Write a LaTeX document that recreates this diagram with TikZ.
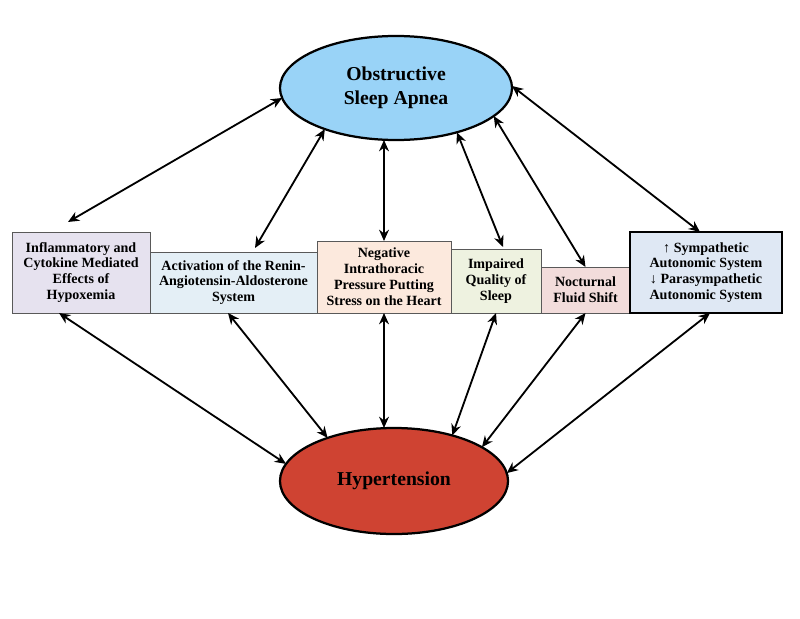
\documentclass[tikz,border=0pt]{standalone}
\usepackage{fontspec}
\setmainfont{Liberation Serif}
\usetikzlibrary{shapes.geometric,arrows.meta}
\definecolor{osablue}{HTML}{99D3F7}
\definecolor{hypred}{HTML}{CF4332}
\definecolor{inflamfill}{HTML}{E6E2EF}
\definecolor{raasfill}{HTML}{E4EFF6}
\definecolor{thoraxfill}{HTML}{FCE9DD}
\definecolor{sleepfill}{HTML}{EEF2E0}
\definecolor{fluidfill}{HTML}{F2DCDB}
\definecolor{autofill}{HTML}{DFE8F4}

\begin{document}
\begin{tikzpicture}[x=0.025cm,y=-0.025cm, % one unit = one pixel of the figure
  oval/.style={ellipse,draw,line width=1.6pt,inner sep=0pt,outer sep=0pt,align=center,font=\fontsize{14}{17}\selectfont\bfseries},
  factor/.style={rectangle,draw=black!65,line width=0.6pt,inner sep=0pt,outer sep=0pt,align=center,font=\fontsize{10}{11.3}\selectfont\bfseries},
  link/.style={{Stealth[length=8pt,width=7pt]}-{Stealth[length=8pt,width=7pt]},line width=1.3pt}]
  \useasboundingbox (0,0) rectangle (800,618);
  % the two main conditions
  \node[oval,fill=osablue,minimum width=5.8cm,minimum height=2.6cm] (osa) at (396,88) {Obstructive\\Sleep Apnea};
  \node[oval,fill=hypred,minimum width=5.7cm,minimum height=2.65cm] (hyp) at (394,481) {Hypertension};
  % the mechanisms in between
  \node[factor,fill=inflamfill,minimum width=3.45cm,minimum height=2.025cm] (inflam) at (81,272.5) {Inflammatory and\\Cytokine Mediated\\Effects of\\Hypoxemia};
  \node[factor,fill=raasfill,minimum width=4.175cm,minimum height=1.525cm] (raas) at (233.5,282.5) {Activation of the Renin-\\Angiotensin-Aldosterone\\System};
  \node[factor,fill=thoraxfill,minimum width=3.35cm,minimum height=1.8cm] (thorax) at (384,277) {Negative\\Intrathoracic\\Pressure Putting\\Stress on the Heart};
  \node[factor,fill=sleepfill,minimum width=2.25cm,minimum height=1.6cm] (sleep) at (496,281) {Impaired\\Quality of\\Sleep};
  \node[factor,fill=fluidfill,minimum width=2.225cm,minimum height=1.15cm] (fluid) at (585.5,290) {Nocturnal\\Fluid Shift};
  \node[factor,draw=black,line width=1.6pt,fill=autofill,minimum width=3.8cm,minimum height=2.025cm] (auto) at (706,272.5) {↑ Sympathetic\\Autonomic System\\↓ Parasympathetic\\Autonomic System};
  % links to sleep apnea
  \draw[link] (osa.185) -- ([shift={(-13,-10)}]inflam.north);
  \draw[link] (osa.210) -- ([shift={(21.5,-4)}]raas.north);
  \draw[link] (thorax.north) -- (thorax.north |- osa.south);
  \draw[link] (osa.324) -- ([shift={(7,-2)}]sleep.north);
  \draw[link] (osa.344) -- (fluid.north);
  \draw[link] (osa.1) -- ([shift={(-6,0)}]auto.north);
  % links to hypertension
  \draw[link] ([shift={(-22,0)}]inflam.south) -- (hyp.171);
  \draw[link] ([shift={(-5.5,0)}]raas.south) -- (hyp.147.5);
  \draw[link] (thorax.south) -- (thorax.south |- hyp.north);
  \draw[link] (sleep.south) -- (hyp.38);
  \draw[link] (fluid.south) -- (hyp.21);
  \draw[link] ([shift={(4,0)}]auto.south) -- (hyp.4.6);
\end{tikzpicture}
\end{document}
